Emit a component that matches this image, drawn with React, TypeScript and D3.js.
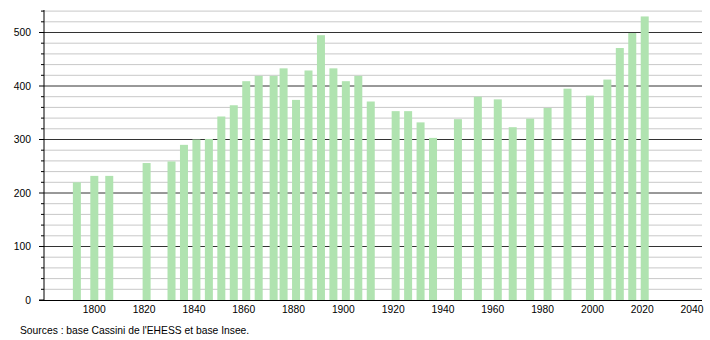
import React from "react";
import * as d3 from "d3";

const years = [1793, 1800, 1806, 1821, 1831, 1836, 1841, 1846, 1851, 1856, 1861, 1866, 1872, 1876, 1881, 1886, 1891, 1896, 1901, 1906, 1911, 1921, 1926, 1931, 1936, 1946, 1954, 1962, 1968, 1975, 1982, 1990, 1999, 2006, 2011, 2016, 2021];
const population = [220, 232, 232, 256, 259, 290, 300, 301, 343, 364, 409, 419, 419, 433, 374, 429, 495, 433, 409, 419, 371, 353, 353, 332, 303, 338, 380, 375, 323, 339, 359, 395, 382, 412, 471, 499, 530];
const xTicks = [1800, 1820, 1840, 1860, 1880, 1900, 1920, 1940, 1960, 1980, 2000, 2020, 2040];
const yMajor = [0, 100, 200, 300, 400, 500];
const sourceText = "Sources : base Cassini de l'EHESS et base Insee.";

const W = 710;
const H = 340;
const FONT = "'Liberation Sans', Arial, sans-serif";

export default function App() {
  const x = d3.scaleLinear().domain([1780, 2044]).range([44.5, 702]);
  const y = d3.scaleLinear().domain([0, 500]).range([300, 32.5]);
  const minor = d3.range(20, 541, 20).filter((v) => v % 100 !== 0);
  const barW = 8;

  return (
    <svg
      width={W}
      height={H}
      style={{ position: "absolute", left: 0, top: 0, background: "#fff" }}
      fontFamily={FONT}
    >
      <rect x={0} y={0} width={W} height={H} fill="#fff" />
      {minor.map((v) => (
        <line key={"g" + v} x1={44} x2={702} y1={y(v)} y2={y(v)} stroke="#c8c8c8" strokeWidth={1} />
      ))}
      {yMajor.filter((v) => v > 0).map((v) => (
        <line key={"G" + v} x1={44} x2={702} y1={y(v)} y2={y(v)} stroke="#333" strokeWidth={1} />
      ))}
      {years.map((yr, i) => (
        <rect
          key={yr}
          x={x(yr) - barW / 2}
          y={y(population[i])}
          width={barW}
          height={y(0) - y(population[i])}
          fill="#b0e3b0"
        />
      ))}
      {/* y axis */}
      <line x1={44} x2={44} y1={10} y2={300} stroke="#000" strokeWidth={1} />
      {minor.map((v) => (
        <line key={"t" + v} x1={41} x2={44} y1={y(v)} y2={y(v)} stroke="#000" strokeWidth={1} />
      ))}
      {yMajor.map((v) => (
        <g key={"T" + v}>
          <line x1={39} x2={44} y1={y(v)} y2={y(v)} stroke="#000" strokeWidth={1} />
          <text x={31} y={y(v)} dy="0.35em" textAnchor="end" fontSize={10.3} fill="#000">
            {v}
          </text>
        </g>
      ))}
      {/* x axis */}
      <line x1={39} x2={702} y1={300.5} y2={300.5} stroke="#000" strokeWidth={1} />
      {xTicks.map((t) => (
        <text key={"x" + t} x={x(t)} y={312.5} textAnchor="middle" fontSize={10.3} fill="#000">
          {t}
        </text>
      ))}
      <text x={20} y={333.5} fontSize={10.3} fill="#000">
        {sourceText}
      </text>
    </svg>
  );
}
